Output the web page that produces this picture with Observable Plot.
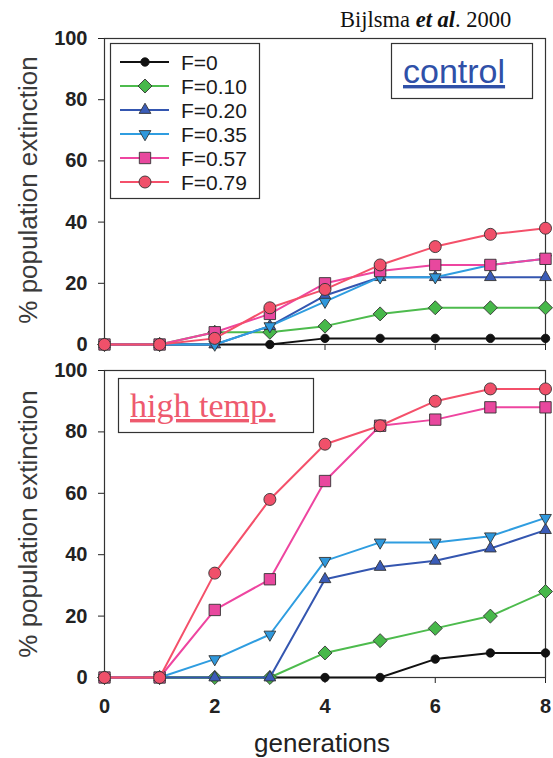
<!DOCTYPE html>
<html><head><meta charset="utf-8">
<script src="https://cdn.jsdelivr.net/npm/d3@7"></script>
<script src="https://cdn.jsdelivr.net/npm/@observablehq/plot@0.6"></script>
<style>
html,body{margin:0;padding:0;background:#fff;}
#chart{position:relative;width:553px;height:758px;overflow:hidden;background:#fff;font-family:"Liberation Sans",Arial,sans-serif;}
#chart > svg{position:absolute;left:0;margin:0;}
</style></head><body><div id="chart"></div>
<script>
// ---- data ----
const generations = [0, 1, 2, 3, 4, 5, 6, 7, 8];
const seriesLabels = ["F=0", "F=0.10", "F=0.20", "F=0.35", "F=0.57", "F=0.79"];

const controlF0   = [0, 0, 0, 0, 2, 2, 2, 2, 2];
const controlF010 = [0, 0, 4, 4, 6, 10, 12, 12, 12];
const controlF020 = [0, 0, 0, 6, 16, 22, 22, 22, 22];
const controlF035 = [0, 0, 0, 6, 14, 22, 22, 26, 28];
const controlF057 = [0, 0, 4, 10, 20, 24, 26, 26, 28];
const controlF079 = [0, 0, 2, 12, 18, 26, 32, 36, 38];

const highF0   = [0, 0, 0, 0, 0, 0, 6, 8, 8];
const highF010 = [0, 0, 0, 0, 8, 12, 16, 20, 28];
const highF020 = [0, 0, 0, 0, 32, 36, 38, 42, 48];
const highF035 = [0, 0, 6, 14, 38, 44, 44, 46, 52];
const highF057 = [0, 0, 22, 32, 64, 82, 84, 88, 88];
const highF079 = [0, 0, 34, 58, 76, 82, 90, 94, 94];

const yTicks = [0, 20, 40, 60, 80, 100];
const xTicks = [0, 2, 4, 6, 8];
const panelNames = ["control", "high temp."];
const yLabel = "% population extinction";
const xLabel = "generations";
const citation = ["Bijlsma ", "et al", ". 2000"];

// ---- styles ----
const lineColors = ["#111111", "#4dbb4d", "#3456b0", "#2f9de0", "#ee45a0", "#f4506a"];
const fillColors = ["#111111", "#47b84a", "#3a5cb8", "#2f98dc", "#e8489e", "#f0506a"];
const triangleDown = {
  draw(ctx, size) {
    const k = Math.sqrt(size) * 0.6824, t = k / 2, u = k * Math.sqrt(3) / 2;
    ctx.moveTo(0, k); ctx.lineTo(u, -t); ctx.lineTo(-u, -t); ctx.closePath();
  }
};
const triangleUp = {
  draw(ctx, size) {
    const k = Math.sqrt(size) * 0.6824, t = k / 2, u = k * Math.sqrt(3) / 2;
    ctx.moveTo(0, -k); ctx.lineTo(u, t); ctx.lineTo(-u, t); ctx.closePath();
  }
};
const symbols = ["circle", "diamond2", triangleUp, triangleDown, "square", "circle"];
const radii = [4.2, 6.3, 5.6, 5.6, 6.4, 6];

const chart = document.getElementById("chart");

function panel(values, top, height, marginTop, marginBottom, showXLabels) {
  const marks = [Plot.frame({stroke: "#333", strokeWidth: 1.2})];
  seriesLabels.forEach((s, i) => {
    const rows = generations.map((g, j) => ({g, v: values[i][j], s}));
    marks.push(Plot.line(rows, {x: "g", y: "v", stroke: lineColors[i], strokeWidth: 2}));
    marks.push(Plot.dot(rows, {
      x: "g", y: "v", symbol: symbols[i], r: radii[i],
      fill: fillColors[i], stroke: i === 0 ? "#111" : "#333", strokeWidth: 0.9
    }));
  });
  const svg = Plot.plot({
    width: 553, height,
    marginLeft: 104, marginRight: 8, marginTop, marginBottom,
    x: {domain: [0, 8], ticks: xTicks, tickSize: 6, tickPadding: 15,
        tickFormat: showXLabels ? (d => String(d)) : (() => ""), label: null},
    y: {domain: [0, 100], ticks: yTicks, tickSize: 6, tickPadding: 11, label: null},
    style: {fontSize: "20px", fontWeight: "bold", fontFamily: "'Liberation Sans', Arial, sans-serif",
            color: "#222", background: "transparent", overflow: "visible"},
    marks
  });
  svg.style.top = top + "px";
  chart.appendChild(svg);
}

panel([controlF0, controlF010, controlF020, controlF035, controlF057, controlF079], 0, 360, 38, 16, false);
panel([highF0, highF010, highF020, highF035, highF057, highF079], 360, 398, 10, 81, true);

// ---- annotations overlay ----
const ov = d3.select(chart).append("svg")
  .attr("width", 553).attr("height", 758)
  .style("top", "0px").style("pointer-events", "none");

// citation
const cit = ov.append("text").attr("x", 340).attr("y", 27)
  .attr("font-family", "'Liberation Serif', 'Times New Roman', serif")
  .attr("font-size", 22.5).attr("fill", "#111");
cit.append("tspan").text(citation[0]);
cit.append("tspan").attr("font-style", "italic").attr("font-weight", "600").text(citation[1]);
cit.append("tspan").text(citation[2]);

// legend box
ov.append("rect").attr("x", 110.5).attr("y", 43.5).attr("width", 149).attr("height", 155)
  .attr("fill", "#fff").attr("stroke", "#333").attr("stroke-width", 1.2);
seriesLabels.forEach((s, i) => {
  const cy = 62 + i * 24;
  ov.append("line").attr("x1", 120).attr("x2", 169).attr("y1", cy).attr("y2", cy)
    .attr("stroke", lineColors[i]).attr("stroke-width", 2);
  const sym = typeof symbols[i] === "string"
    ? ({circle: d3.symbolCircle, diamond2: d3.symbolDiamond2, square: d3.symbolSquare})[symbols[i]]
    : symbols[i];
  ov.append("path").attr("transform", `translate(145,${cy})`)
    .attr("d", d3.symbol(sym, Math.PI * radii[i] * radii[i])())
    .attr("fill", fillColors[i]).attr("stroke", i === 0 ? "#111" : "#333").attr("stroke-width", 0.9);
  ov.append("text").attr("x", 181).attr("y", cy + 7.5)
    .attr("font-family", "'Liberation Sans', Arial, sans-serif").attr("font-size", 21)
    .attr("fill", "#1a1a1a").text(s);
});

// control box
ov.append("rect").attr("x", 391.5).attr("y", 43.5).attr("width", 141).attr("height", 55)
  .attr("fill", "#fff").attr("stroke", "#333").attr("stroke-width", 1.2);
ov.append("text").attr("x", 403).attr("y", 83)
  .attr("font-family", "'Liberation Sans', Arial, sans-serif").attr("font-size", 34)
  .attr("fill", "#2f50a8").attr("text-decoration", "underline").text(panelNames[0]);

// high temp box
ov.append("rect").attr("x", 118.5).attr("y", 378.5).attr("width", 195).attr("height", 54)
  .attr("fill", "#fff").attr("stroke", "#333").attr("stroke-width", 1.2);
ov.append("text").attr("x", 130).attr("y", 417)
  .attr("font-family", "'Liberation Serif', 'Times New Roman', serif").attr("font-size", 34)
  .attr("fill", "#ee5a6e").attr("text-decoration", "underline").text(panelNames[1]);

// axis labels
[190, 524].forEach(cy => {
  ov.append("text").attr("transform", `translate(37,${cy}) rotate(-90)`)
    .attr("text-anchor", "middle")
    .attr("font-family", "'Liberation Sans', Arial, sans-serif").attr("font-size", 26)
    .attr("fill", "#3a3a3a").text(yLabel);
});
ov.append("text").attr("x", 322).attr("y", 752).attr("text-anchor", "middle")
  .attr("font-family", "'Liberation Sans', Arial, sans-serif").attr("font-size", 26)
  .attr("fill", "#222").text(xLabel);
</script>
</body></html>
